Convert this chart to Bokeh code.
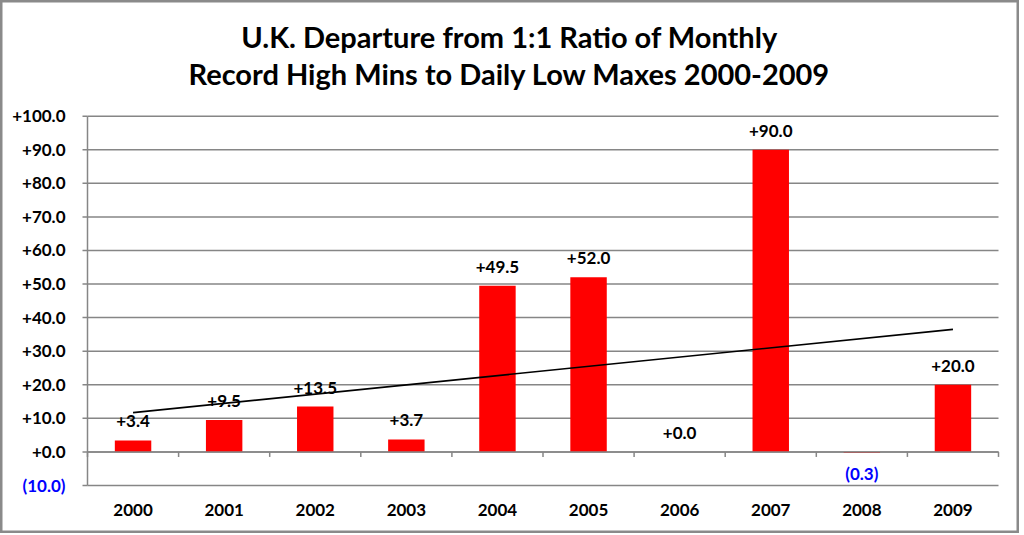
from bokeh.plotting import figure
from bokeh.models import Range1d, ColumnDataSource
from bokeh.core.properties import value
from bokeh.embed import file_html
from bokeh.resources import INLINE

# data
years = ["2000", "2001", "2002", "2003", "2004", "2005", "2006", "2007", "2008", "2009"]
departure = [3.4, 9.5, 13.5, 3.7, 49.5, 52.0, 0.0, 90.0, -0.3, 20.0]
trend_ends = [11.7, 36.5]  # linear trendline at 2000 and at 2009
y_ticks = [-10, 0, 10, 20, 30, 40, 50, 60, 70, 80, 90, 100]
title_lines = ["U.K. Departure from 1:1 Ratio of Monthly",
               "Record High Mins to Daily Low Maxes 2000-2009"]

FONT = "Lato"
GRAY = "#868686"
BLUE = "#0000ff"

# axes and title are drawn by hand, the frame covers the whole figure
W, H = 1019, 533
CAT_PX = 91.1          # width of one category
LEFT_PX = 87           # figure edge to value axis
RIGHT_PX = W - LEFT_PX - 10 * CAT_PX
Y_PX = 3.357           # pixels per unit of value
TOP_PX = 115.7         # figure top to the +100 gridline
tick_u = 5 / CAT_PX


def fmt(v):
    # excel style number format: +0.0;(0.0)
    return "+%.1f" % v if v >= 0 else "(%.1f)" % abs(v)


n = len(years)
xs = [i + 0.5 for i in range(n)]
y_top = 100 + TOP_PX / Y_PX
y_bottom = y_top - H / Y_PX

p = figure(width=W, height=H,
           x_range=Range1d(-LEFT_PX / CAT_PX, n + RIGHT_PX / CAT_PX),
           y_range=Range1d(y_bottom, y_top), output_backend="svg",
           toolbar_location=None, min_border=0)
p.axis.visible = False
p.grid.grid_line_color = None
# frame outline doubles as the chart border
p.outline_line_color = "#8a8a8a"
p.outline_line_width = 4

# title, two centred lines
title_x = (512 - 3 - LEFT_PX) / CAT_PX
title_y = [100 + (TOP_PX - 36) / Y_PX, 100 + (TOP_PX - 73) / Y_PX]
p.text(x=[title_x] * 2, y=title_y, text=title_lines, text_align="center",
       text_baseline="middle", text_color="black", text_font=value(FONT),
       text_font_size="29px", text_font_style="bold")

# horizontal gridlines, value axis line and its ticks
m = len(y_ticks)
p.segment(x0=[0] * m, y0=y_ticks, x1=[n] * m, y1=y_ticks,
          line_color=GRAY, line_width=1.5)
p.segment(x0=[0], y0=[y_ticks[0]], x1=[0], y1=[y_ticks[-1]],
          line_color=GRAY, line_width=1.5)
p.segment(x0=[0] * m, y0=y_ticks, x1=[-tick_u] * m, y1=y_ticks,
          line_color=GRAY, line_width=1.5)
p.text(x=[0] * m, y=y_ticks, text=[fmt(t) for t in y_ticks],
       text_color=["black" if t >= 0 else BLUE for t in y_ticks],
       x_offset=-22, text_align="right", text_baseline="middle",
       text_font=value(FONT), text_font_size="17px", text_font_style="bold")

# bars
src = ColumnDataSource(dict(x=xs, top=departure))
p.vbar(x="x", top="top", width=0.4, source=src, fill_color="#ff0000",
       line_color=None)

# trendline
p.line([xs[0], xs[-1]], trend_ends, line_color="black", line_width=1.6)

# category axis line sits at zero over the bars, ticks between categories
bounds = list(range(n + 1))
p.segment(x0=[0], y0=[0], x1=[n], y1=[0], line_color=GRAY, line_width=1.5)
p.segment(x0=bounds, y0=[0] * len(bounds), x1=bounds, y1=[-1.5] * len(bounds),
          line_color=GRAY, line_width=1.5)

# data labels
lbl = ColumnDataSource(dict(
    x=xs,
    y=[max(v, 0) for v in departure],
    text=[fmt(v) for v in departure],
    color=["black" if v >= 0 else BLUE for v in departure],
    dy=[-13 if v >= 0 else 11 for v in departure],
    base=["bottom" if v >= 0 else "top" for v in departure],
))
p.text(x="x", y="y", text="text", source=lbl, text_color="color",
       y_offset="dy", text_baseline="base", text_align="center",
       text_font=value(FONT), text_font_size="17px", text_font_style="bold")

# category labels under the lowest gridline
p.text(x=xs, y=[y_ticks[0]] * n, text=years, y_offset=25,
       text_align="center", text_baseline="middle", text_color="black",
       text_font=value(FONT), text_font_size="17px", text_font_style="bold")

open("out.html", "w").write(file_html(p, INLINE))
